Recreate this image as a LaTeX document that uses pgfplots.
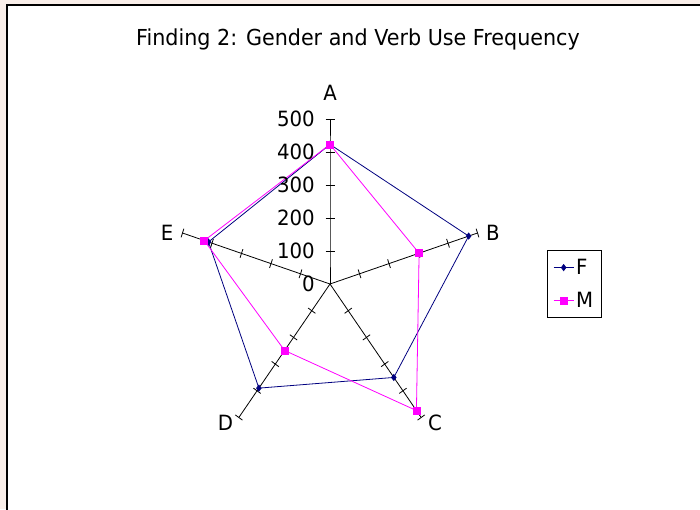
\documentclass[border=0pt]{standalone}
\usepackage{pgfplots}
\pgfplotsset{compat=1.18}
\usepackage{pgfplotstable}
\usepackage{fontspec}
\setmainfont{DejaVu Sans}[FakeStretch=0.94]
\definecolor{fcol}{RGB}{0,0,128}
\definecolor{mcol}{RGB}{255,0,255}
\definecolor{bgcol}{RGB}{249,238,233}

\pgfplotstableread{
cat a F M
A 90 423 423
B 18 470 302
C -54 350 474
D -126 390 249
E 162 412 426
A 90 423 423
}\radar

\newcommand{\spoke}[1]{%
  \addplot[black, line width=0.8pt, forget plot, mark=|, mark size=4.5pt,
    mark options={rotate=#1, solid}, mark indices={2,3,4,5,6}]
    table[row sep=\\, x expr={\thisrow{r}*cos(#1)}, y expr={\thisrow{r}*sin(#1)}]
    {r\\0\\100\\200\\300\\400\\500\\};}

\newcommand{\labfont}{\fontsize{21}{25}\selectfont}

\begin{document}
\begin{tikzpicture}[x=1pt,y=1pt]
\fill[bgcol] (0,0) rectangle (700,509);
\draw[line width=2pt, fill=white] (7,504) rectangle (730,-30);
\begin{axis}[
  at={(330pt,225pt)}, anchor=origin,
  x=0.3102pt, y=0.33pt,
  xmin=-600, xmax=600, ymin=-600, ymax=600,
  hide axis, clip=false,
  legend image code/.code={\draw[mark repeat=2,mark phase=2,#1] plot coordinates {(0pt,0pt) (10pt,0pt) (20pt,0pt)};},
  legend style={at={(axis cs:699,0)}, anchor=west, draw=black, line width=0.8pt,
    font=\labfont, row sep=12pt, inner xsep=6pt, inner ysep=7pt},
  legend cell align=left,
]
\spoke{90}
\spoke{18}
\spoke{-54}
\spoke{-126}
\spoke{162}
\addplot[fcol, line width=0.8pt, mark=diamond*, mark size=3pt, mark options={fill=fcol}]
  table[x expr={\thisrow{F}*cos(\thisrow{a})}, y expr={\thisrow{F}*sin(\thisrow{a})}] {\radar};
\addlegendentry{F}
\addplot[mcol, line width=0.8pt, mark=square*, mark size=3.5pt, mark options={fill=mcol}]
  table[x expr={\thisrow{M}*cos(\thisrow{a})}, y expr={\thisrow{M}*sin(\thisrow{a})}] {\radar};
\addlegendentry{M}
\end{axis}
\begin{scope}[every node/.style={inner sep=0pt, font=\labfont}]
\node[font=\fontsize{22}{26}\selectfont, anchor=base] at (358,463) {Finding 2: Gender and Verb Use Frequency};
\node at (330,416) {A};
\node[anchor=west] at (486,276) {B};
\node at (435,86) {C};
\node at (225.5,86) {D};
\node[anchor=east] at (173.5,276) {E};
\node[anchor=east] at (315,225) {0};
\node[anchor=east] at (315,258) {100};
\node[anchor=east] at (315,291) {200};
\node[anchor=east] at (315,324) {300};
\node[anchor=east] at (315,357) {400};
\node[anchor=east] at (315,390) {500};
\end{scope}
\pgfresetboundingbox
\path (0,0) rectangle (700,509);
\end{tikzpicture}
\end{document}
